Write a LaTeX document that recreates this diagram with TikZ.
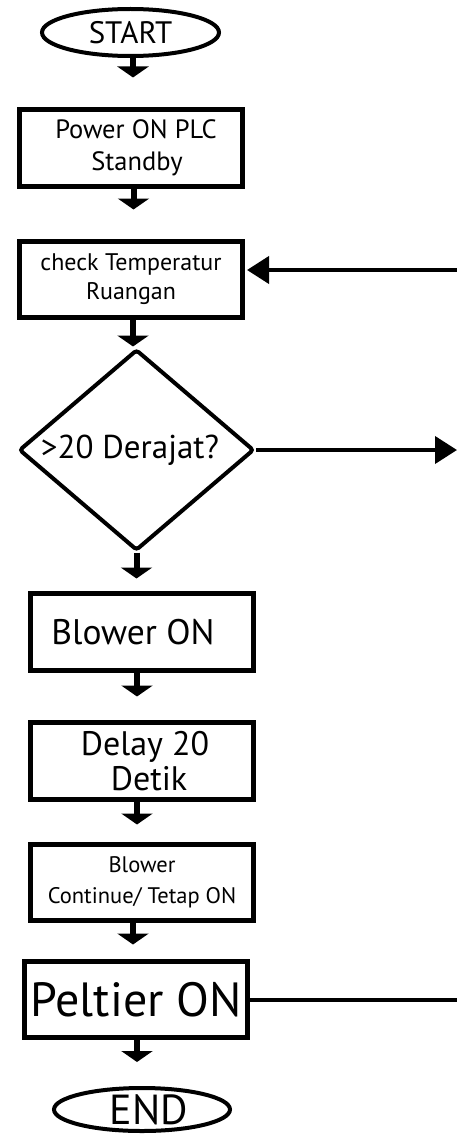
\documentclass[tikz,border=0pt]{standalone}
\usepackage{fontspec}
\setmainfont{PT Sans}
\usetikzlibrary{arrows.meta,shapes.geometric,calc}
\begin{document}
\begin{tikzpicture}[x=1pt,y=-1pt,
  boxnode/.style={draw,line width=5pt,rectangle,minimum width=223pt,minimum height=77pt,inner sep=0pt,align=center},
  termnode/.style={draw,line width=4pt,ellipse,inner sep=0pt},
  decnode/.style={draw,line width=4pt,diamond,shape aspect=1.17,rounded corners=3pt,minimum width=235pt,minimum height=201pt,inner sep=0pt},
  downarr/.style={line width=6pt,-{Triangle[width=31pt,length=11pt]}},
  sidearr/.style={line width=4pt,-{Triangle[width=27pt,length=22pt]}},
  sideline/.style={line width=4pt}]
\useasboundingbox (0,0) rectangle (457,1134);
\node[termnode,minimum width=177pt,minimum height=47pt,font=\fontsize{31}{34}\selectfont] (start) at (130.5,32.5) {START};
\node[boxnode,font=\fontsize{26.5}{32}\selectfont] (power) at (131,148) {\hspace*{10pt}Power ON PLC\\\hspace*{12pt}Standby};
\node[boxnode,minimum height=76pt,font=\fontsize{24}{29}\selectfont] (check) at (131,279.5) {check Temperatur\\Ruangan};
\node[decnode,font=\fontsize{33}{36}\selectfont] (dec) at (136.5,450) {\makebox[0pt]{>20 Derajat?\hspace*{13pt}}};
\node[boxnode,font=\fontsize{35.5}{40}\selectfont] (blower) at (142,632) {Blower ON\hspace*{18pt}};
\node[boxnode,font=\fontsize{34}{35}\selectfont] (delay) at (142,761) {\hspace*{6pt}Delay 20\\\hspace*{14pt}Detik};
\node[boxnode,minimum height=76pt,font=\fontsize{22.5}{31}\selectfont] (cont) at (142,882.5) {Blower\\Continue/ Tetap ON};
\node[boxnode,minimum height=76pt,font=\fontsize{48}{50}\selectfont] (peltier) at (136,999.5) {Peltier ON};
\node[termnode,minimum width=176pt,minimum height=43pt,font=\fontsize{42}{44}\selectfont] (end) at (142,1109.5) {\makebox[0pt]{\hspace*{14pt}END}};
\coordinate (r1) at (457,270);
\coordinate (r2) at (457,450);
\coordinate (r3) at (457,1000);
\draw[downarr,shorten >=29.5pt] ([xshift=2.5pt]start.south) -- ([xshift=2.5pt]start.south |- power.north);
\draw[downarr,shorten >=29.5pt] ([xshift=2.5pt]power.south) -- ([xshift=2.5pt]power.south |- check.north);
\draw[downarr,shorten >=1pt] ([xshift=2pt]check.south) -- ([xshift=2pt]check.south |- dec.north);
\draw[downarr,shorten >=12.5pt] (dec.south) -- (dec.south |- blower.north);
\draw[downarr,shorten >=23.5pt] ([xshift=-5pt]blower.south) -- ([xshift=-5pt]blower.south |- delay.north);
\draw[downarr,shorten >=17.5pt] ([xshift=-5pt]delay.south) -- ([xshift=-5pt]delay.south |- cont.north);
\draw[downarr,shorten >=14.5pt] ([xshift=-9pt]cont.south) -- ([xshift=-9pt]cont.south |- peltier.north);
\draw[downarr,shorten >=24pt] ([xshift=1pt]peltier.south) -- ([xshift=1pt]peltier.south |- end.north);
\draw[sidearr,shorten >=2pt] (r1) -- (check.east |- r1);
\draw[sidearr] (dec.east) -- (r2);
\draw[sideline] (peltier.east |- r3) -- (r3);
\end{tikzpicture}
\end{document}
